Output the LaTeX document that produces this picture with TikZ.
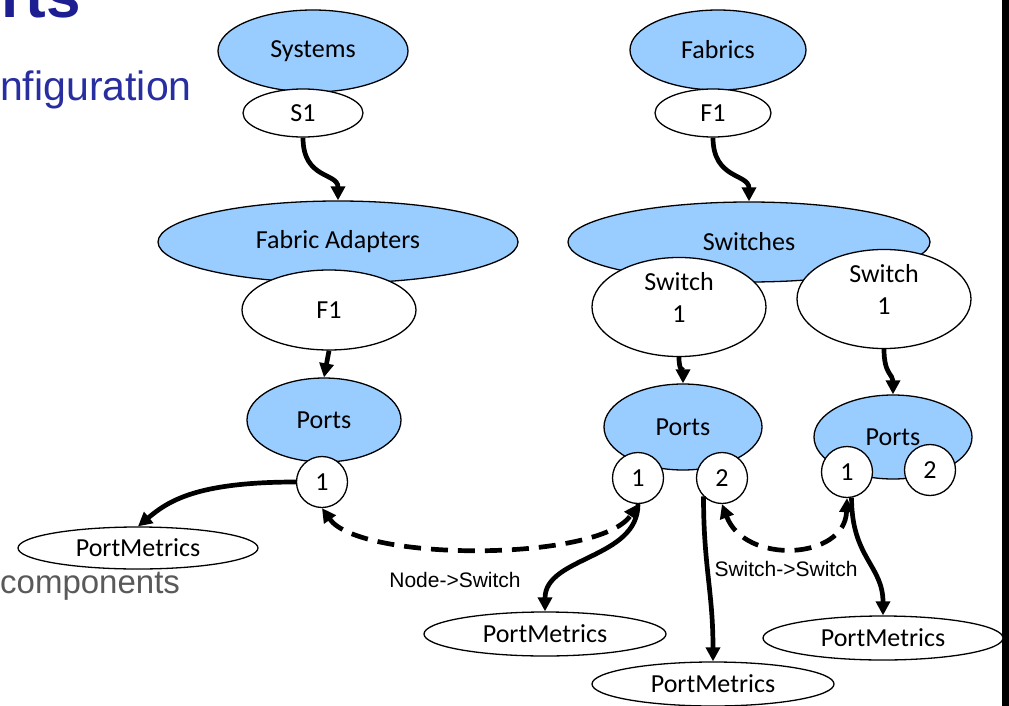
\documentclass[tikz,border=0pt]{standalone}
\usepackage{fontspec}
\setmainfont{Carlito}
\newfontfamily\arialf{Liberation Sans}
\usetikzlibrary{shapes.geometric,arrows.meta}
\definecolor{fillblue}{RGB}{153,204,255}
\definecolor{titleblue}{RGB}{28,30,145}
\definecolor{subblue}{RGB}{40,45,160}
\definecolor{graytxt}{RGB}{89,89,89}
\tikzset{
  ell/.style={ellipse, draw=black, line width=1.3pt, inner sep=0pt, font=\fontsize{26}{32}\selectfont, align=center},
  bluell/.style={ell, fill=fillblue},
  whell/.style={ell, fill=white},
  portc/.style={circle, draw=black, line width=1.3pt, fill=white, inner sep=0pt, minimum size=51pt, font=\fontsize{26}{32}\selectfont},
  arr/.style={line width=4.7pt, -{Triangle[length=14pt,width=14pt]}},
  darr/.style={line width=4.7pt, dash pattern=on 17pt off 10pt, {Triangle[length=14pt,width=14pt]}-{Triangle[length=14pt,width=14pt]}},
  lbl/.style={font=\arialf\fontsize{21}{24}\selectfont, inner sep=0pt}
}
\begin{document}
\begin{tikzpicture}[x=1pt,y=-1pt]
\useasboundingbox (0,0) rectangle (1009,706);
% slide fragments
\node[anchor=base east, inner sep=0pt, text=titleblue, font=\arialf\bfseries\fontsize{62}{70}\selectfont] (title) at (81,18) {rts};
\node[anchor=base west, inner sep=0pt, text=subblue, font=\arialf\fontsize{41}{48}\selectfont] (sub) at (0,101) {nfiguration};
\node[anchor=base west, inner sep=0pt, text=graytxt, font=\arialf\fontsize{33}{40}\selectfont] (comp) at (0,593) {components};
\fill[black] (1002,0) rectangle (1009,706);

% left column
\node[bluell, minimum width=190pt, minimum height=82pt] (sys) at (313,51) {Systems};
\node[whell, minimum width=120pt, minimum height=48pt] (s1) at (303,113) {S1};
\node[bluell, minimum width=360pt, minimum height=82pt] (fa) at (338,242) {Fabric Adapters};
\node[whell, minimum width=174pt, minimum height=80pt] (f1m) at (329,310) {F1};
\node[bluell, minimum width=154pt, minimum height=84pt] (pl) at (324,420) {Ports};
\node[portc] (pl1) at (322,482) {1};
\node[whell, minimum width=240pt, minimum height=42pt] (pml) at (138,548) {PortMetrics};

% right column
\node[bluell, minimum width=176pt, minimum height=80pt] (fab) at (718,50) {Fabrics};
\node[whell, minimum width=116pt, minimum height=48pt] (f1t) at (713,113) {F1};
\node[bluell, minimum width=362pt, minimum height=80pt] (sw) at (749,242) {Switches};
\node[whell, minimum width=174pt, minimum height=90pt] (swl) at (679,307) {Switch\\1\rule[-20pt]{0pt}{1pt}};
\node[whell, minimum width=174pt, minimum height=90pt] (swr) at (884,299) {Switch\\1\rule[-20pt]{0pt}{1pt}};
\node[bluell, minimum width=158pt, minimum height=86pt] (pm) at (683,427) {Ports};
\node[portc] (pm1) at (638,478) {1};
\node[portc] (pm2) at (722,478) {2};
\node[bluell, minimum width=158pt, minimum height=84pt] (pr) at (893,437) {Ports};
\node[portc] (pr1) at (847,472) {1};
\node[portc] (pr2) at (930,470) {2};
\node[whell, minimum width=242pt, minimum height=44pt] (pmm) at (545,634) {PortMetrics};
\node[whell, minimum width=242pt, minimum height=44pt] (pmb) at (713,684) {PortMetrics};
\node[whell, minimum width=240pt, minimum height=44pt] (pmr) at (883,638) {PortMetrics};

% connectors
\draw[arr] (s1.south) .. controls +(0,42) and +(0,-28) .. (fa.north);
\draw[arr] (f1t.south) .. controls +(0,42) and +(0,-28) .. (sw.north);
\draw[arr] (f1m.south) -- (pl.north);
\draw[arr] (swl.south) .. controls +(0,15) and +(0,-15) .. (pm.north);
\draw[arr] (swr.south) .. controls +(0,25) and +(0,-20) .. (pr.north);
\draw[arr] (pl1.west) .. controls +(-100,0) and +(30,-25) .. (pml.north);
\draw[arr] (pm1.south) .. controls +(0,55) and +(0,-55) .. (pmm.north);
\draw[arr] (pm2.225) .. controls +(0,70) and +(0,-70) .. (pmb.north);
\draw[arr] (pr1.-80) .. controls +(0,60) and +(0,-50) .. (pmr.north);
\draw[darr] (pl1.south) .. controls (360,562) and (600,562) .. (pm1.south);
\draw[darr] (pm2.south) .. controls (745,565) and (845,560) .. (pr1.south);

\node[lbl] (l1) at (455,580) {Node->Switch};
\node[lbl] (l2) at (786,569) {Switch->Switch};
\end{tikzpicture}
\end{document}
